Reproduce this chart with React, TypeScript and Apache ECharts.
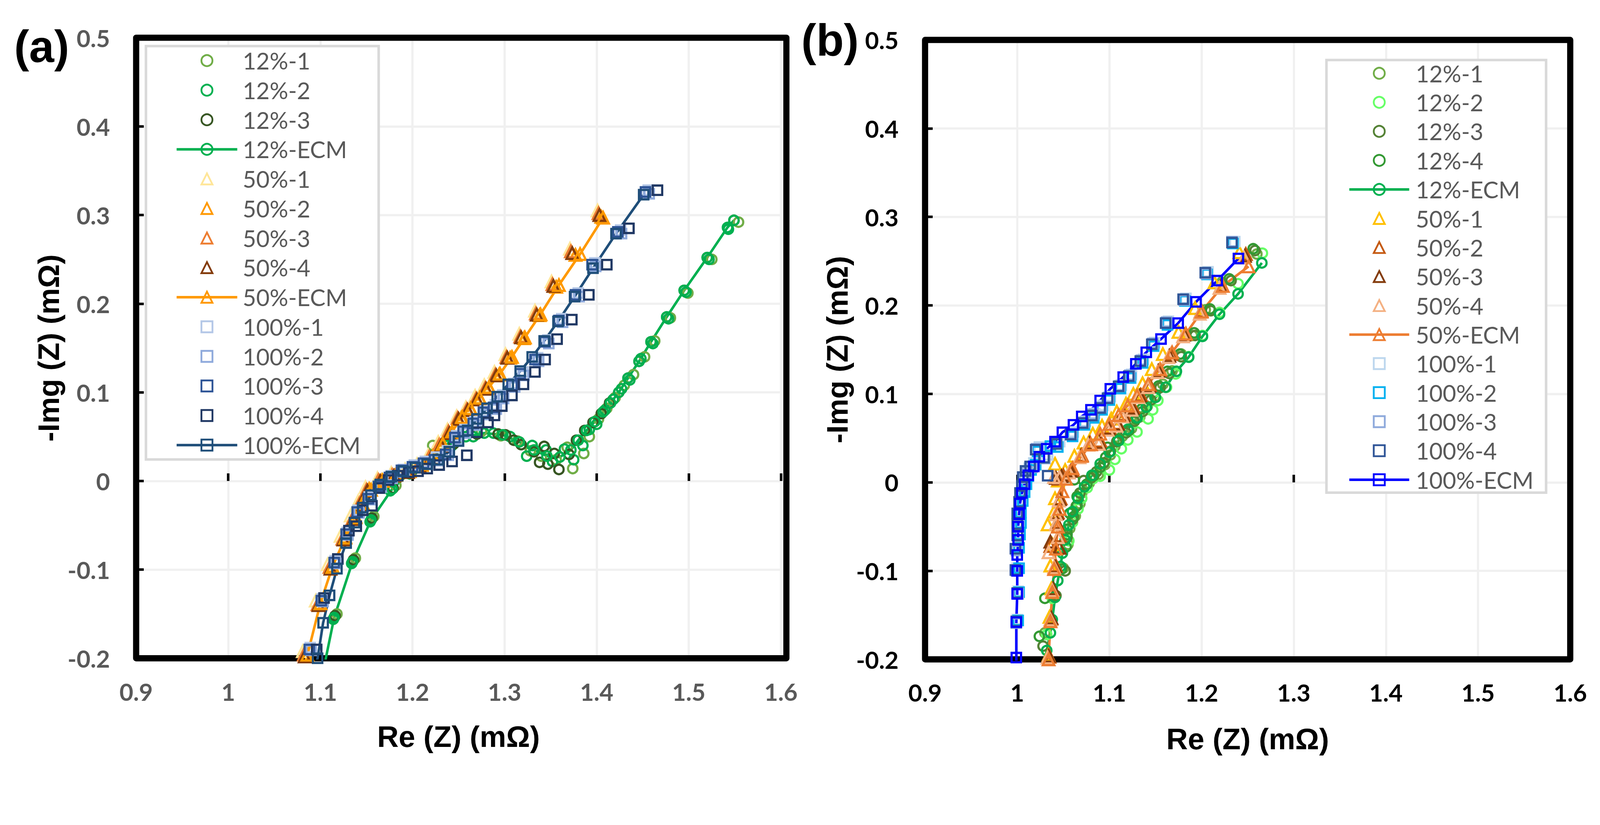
import React, { useEffect, useRef } from "react";
import * as echarts from "echarts";

// ---------------- Panel (a) data: [Re(Z), -Img(Z)] in mΩ ----------------
const A12_1 = [[1.109,-0.205],[1.118,-0.15],[1.138,-0.087],[1.158,-0.04],[1.182,-0.005],[1.205,0.016],[1.222,0.04],[1.248,0.047],[1.275,0.056],[1.296,0.051],[1.314,0.045],[1.328,0.034],[1.34,0.028],[1.356,0.024],[1.374,0.014],[1.368,0.038],[1.386,0.031],[1.392,0.05],[1.402,0.07],[1.411,0.082],[1.42,0.094],[1.43,0.108],[1.44,0.12],[1.452,0.14],[1.463,0.158],[1.48,0.184],[1.499,0.212],[1.525,0.25],[1.554,0.292]];
const A12_2 = [[1.106,-0.21],[1.114,-0.156],[1.134,-0.093],[1.154,-0.046],[1.176,-0.011],[1.197,0.008],[1.22,0.026],[1.243,0.04],[1.266,0.05],[1.288,0.054],[1.306,0.05],[1.324,0.028],[1.33,0.04],[1.345,0.035],[1.352,0.022],[1.365,0.036],[1.375,0.024],[1.385,0.04],[1.392,0.058],[1.4,0.064],[1.409,0.08],[1.418,0.092],[1.427,0.104],[1.436,0.114],[1.448,0.138],[1.461,0.155],[1.478,0.183],[1.497,0.213],[1.522,0.25],[1.543,0.284]];
const A12_3 = [[1.108,-0.21],[1.116,-0.152],[1.136,-0.089],[1.156,-0.042],[1.179,-0.008],[1.2,0.012],[1.222,0.028],[1.245,0.042],[1.27,0.053],[1.293,0.053],[1.301,0.052],[1.31,0.046],[1.318,0.041],[1.332,0.033],[1.343,0.039],[1.338,0.021],[1.347,0.019],[1.354,0.031],[1.359,0.013],[1.37,0.03],[1.378,0.046],[1.387,0.057],[1.396,0.066],[1.405,0.076],[1.414,0.088],[1.424,0.1],[1.434,0.116],[1.446,0.135],[1.459,0.157],[1.476,0.185],[1.495,0.215],[1.52,0.252],[1.549,0.294]];
const A12_ECM = [[1.101,-0.225],[1.115,-0.154],[1.135,-0.091],[1.155,-0.044],[1.178,-0.009],[1.198,0.01],[1.218,0.025],[1.238,0.04],[1.258,0.05],[1.278,0.054],[1.298,0.052],[1.316,0.044],[1.332,0.035],[1.346,0.028],[1.36,0.027],[1.372,0.035],[1.38,0.046],[1.389,0.057],[1.398,0.067],[1.407,0.078],[1.415,0.088],[1.424,0.1],[1.434,0.116],[1.446,0.135],[1.459,0.157],[1.476,0.185],[1.495,0.215],[1.52,0.252],[1.542,0.286],[1.549,0.294]];

const A50_1 = [[1.081,-0.192],[1.095,-0.135],[1.108,-0.094],[1.122,-0.062],[1.133,-0.039],[1.141,-0.023],[1.149,-0.007],[1.162,0.003],[1.177,0.009],[1.192,0.013],[1.205,0.019],[1.217,0.029],[1.228,0.044],[1.238,0.058],[1.248,0.073],[1.258,0.083],[1.268,0.096],[1.278,0.108],[1.289,0.123],[1.301,0.143],[1.316,0.166],[1.333,0.192],[1.351,0.225],[1.371,0.262],[1.401,0.305]];
const A50_2 = [[1.085,-0.197],[1.1,-0.138],[1.113,-0.096],[1.127,-0.063],[1.138,-0.04],[1.145,-0.024],[1.153,-0.009],[1.167,0.001],[1.182,0.007],[1.197,0.011],[1.21,0.018],[1.222,0.028],[1.233,0.042],[1.243,0.055],[1.253,0.071],[1.263,0.081],[1.273,0.093],[1.283,0.105],[1.294,0.12],[1.306,0.139],[1.321,0.161],[1.338,0.187],[1.356,0.219],[1.377,0.255],[1.405,0.298]];
const A50_3 = [[1.082,-0.196],[1.097,-0.139],[1.11,-0.097],[1.124,-0.065],[1.135,-0.042],[1.142,-0.026],[1.15,-0.01],[1.163,0.001],[1.178,0.007],[1.193,0.011],[1.206,0.017],[1.218,0.027],[1.229,0.041],[1.239,0.056],[1.249,0.071],[1.259,0.081],[1.269,0.093],[1.279,0.105],[1.29,0.12],[1.302,0.14],[1.317,0.163],[1.334,0.189],[1.352,0.222],[1.372,0.259],[1.402,0.302]];
const A50_4 = [[1.083,-0.198],[1.098,-0.14],[1.111,-0.099],[1.125,-0.066],[1.136,-0.043],[1.143,-0.027],[1.151,-0.011],[1.165,0.0],[1.18,0.006],[1.195,0.01],[1.208,0.016],[1.22,0.026],[1.231,0.04],[1.24,0.054],[1.25,0.07],[1.26,0.08],[1.27,0.092],[1.28,0.104],[1.291,0.119],[1.303,0.139],[1.318,0.162],[1.335,0.1875],[1.353,0.22],[1.3735,0.257],[1.403,0.3]];
const A50_ECM = [[1.08,-0.215],[1.086,-0.196],[1.1,-0.138],[1.113,-0.097],[1.127,-0.064],[1.138,-0.041],[1.146,-0.025],[1.155,-0.01],[1.168,0.0],[1.182,0.007],[1.196,0.012],[1.21,0.019],[1.222,0.028],[1.233,0.042],[1.243,0.056],[1.254,0.072],[1.263,0.082],[1.273,0.094],[1.283,0.106],[1.295,0.121],[1.308,0.14],[1.322,0.162],[1.339,0.188],[1.359,0.221],[1.382,0.256],[1.407,0.297]];

const A100_1 = [[1.089,-0.188],[1.102,-0.133],[1.116,-0.09],[1.129,-0.058],[1.141,-0.033],[1.153,-0.018],[1.165,-0.004],[1.177,0.006],[1.19,0.013],[1.202,0.018],[1.214,0.022],[1.226,0.027],[1.238,0.034],[1.248,0.051],[1.257,0.058],[1.268,0.067],[1.279,0.079],[1.29,0.086],[1.298,0.097],[1.31,0.11],[1.32,0.123],[1.336,0.139],[1.347,0.159],[1.362,0.183],[1.38,0.212],[1.398,0.246],[1.426,0.283],[1.456,0.328]];
const A100_2 = [[1.09,-0.191],[1.103,-0.136],[1.117,-0.093],[1.13,-0.061],[1.142,-0.036],[1.154,-0.021],[1.166,-0.007],[1.178,0.003],[1.191,0.01],[1.203,0.015],[1.215,0.019],[1.227,0.023],[1.239,0.029],[1.249,0.047],[1.258,0.054],[1.269,0.063],[1.28,0.075],[1.291,0.081],[1.299,0.093],[1.311,0.106],[1.321,0.119],[1.337,0.135],[1.348,0.155],[1.363,0.179],[1.381,0.208],[1.399,0.242],[1.427,0.279],[1.457,0.324]];
const A100_3 = [[1.088,-0.19],[1.101,-0.135],[1.115,-0.092],[1.128,-0.06],[1.14,-0.035],[1.152,-0.02],[1.163,-0.006],[1.175,0.004],[1.188,0.012],[1.2,0.016],[1.212,0.02],[1.224,0.024],[1.236,0.03],[1.246,0.049],[1.255,0.056],[1.266,0.065],[1.277,0.0775],[1.288,0.083],[1.295,0.095],[1.308,0.108],[1.317,0.121],[1.333,0.137],[1.344,0.157],[1.359,0.181],[1.377,0.21],[1.395,0.244],[1.423,0.281],[1.453,0.326]];
const A100_4 = [[1.096,-0.19],[1.104,-0.132],[1.119,-0.088],[1.131,-0.056],[1.139,-0.051],[1.146,-0.033],[1.156,-0.028],[1.164,-0.008],[1.174,0.001],[1.184,0.006],[1.196,0.01],[1.206,0.011],[1.216,0.014],[1.229,0.018],[1.243,0.022],[1.259,0.029],[1.27,0.055],[1.282,0.066],[1.289,0.074],[1.297,0.0845],[1.308,0.0965],[1.3205,0.109],[1.333,0.123],[1.344,0.137],[1.357,0.16],[1.373,0.182],[1.3915,0.21],[1.411,0.244],[1.435,0.285],[1.466,0.328]];
const A100_ECM = [[1.092,-0.215],[1.097,-0.2],[1.103,-0.16],[1.11,-0.129],[1.118,-0.099],[1.128,-0.07],[1.137,-0.047],[1.146,-0.03],[1.155,-0.016],[1.165,-0.004],[1.177,0.005],[1.19,0.011],[1.203,0.015],[1.216,0.019],[1.228,0.024],[1.24,0.033],[1.25,0.045],[1.26,0.057],[1.27,0.07],[1.281,0.082],[1.292,0.095],[1.304,0.109],[1.317,0.124],[1.33,0.14],[1.343,0.158],[1.358,0.18],[1.376,0.208],[1.396,0.24],[1.421,0.279],[1.451,0.323]];

// ---------------- Panel (b) data ----------------
const B12_1 = [[1.03,-0.17],[1.04,-0.13],[1.05,-0.097],[1.055,-0.07],[1.057,-0.052],[1.063,-0.038],[1.068,-0.024],[1.07,-0.012],[1.078,-0.001],[1.088,0.009],[1.095,0.02],[1.101,0.031],[1.106,0.041],[1.114,0.052],[1.124,0.061],[1.133,0.074],[1.141,0.086],[1.149,0.097],[1.158,0.111],[1.168,0.126],[1.178,0.145],[1.19,0.166],[1.204,0.195],[1.222,0.226],[1.26,0.258]];
const B12_2 = [[1.032,-0.172],[1.038,-0.131],[1.047,-0.096],[1.056,-0.066],[1.06,-0.045],[1.066,-0.03],[1.07,-0.018],[1.076,-0.006],[1.082,0.004],[1.09,0.007],[1.1,0.014],[1.106,0.026],[1.113,0.038],[1.12,0.048],[1.13,0.057],[1.142,0.0717],[1.147,0.082],[1.1526,0.0925],[1.162,0.1075],[1.172,0.1226],[1.186,0.142],[1.201,0.166],[1.2195,0.192],[1.2396,0.2245],[1.266,0.259]];
const B12_3 = [[1.028,-0.185],[1.042,-0.128],[1.052,-0.1],[1.054,-0.062],[1.06,-0.042],[1.064,-0.027],[1.068,-0.012],[1.072,0.002],[1.08,0.005],[1.086,0.012],[1.094,0.022],[1.101,0.035],[1.108,0.046],[1.118,0.056],[1.127,0.069],[1.136,0.08],[1.145,0.093],[1.155,0.107],[1.165,0.123],[1.178,0.142],[1.193,0.166],[1.21,0.194],[1.232,0.228],[1.258,0.262]];
const B12_4 = [[1.024,-0.174],[1.03,-0.131],[1.048,-0.098],[1.053,-0.073],[1.054,-0.059],[1.054,-0.053],[1.061,-0.039],[1.057,-0.035],[1.065,-0.026],[1.065,-0.016],[1.062,0.003],[1.0755,-0.002],[1.083,0.0075],[1.09,0.017],[1.096,0.0283],[1.098,0.0396],[1.1096,0.049],[1.121,0.0585],[1.129,0.0717],[1.135,0.083],[1.142,0.0943],[1.1535,0.109],[1.163,0.1255],[1.1765,0.145],[1.192,0.169],[1.209,0.196],[1.23,0.23],[1.256,0.264]];
const B12_ECM = [[1.027,-0.215],[1.032,-0.19],[1.036,-0.17],[1.038,-0.155],[1.041,-0.13],[1.044,-0.111],[1.047,-0.095],[1.049,-0.08],[1.052,-0.065],[1.056,-0.048],[1.06,-0.033],[1.066,-0.018],[1.073,-0.005],[1.081,0.008],[1.09,0.021],[1.1,0.034],[1.11,0.047],[1.12,0.06],[1.13,0.073],[1.14,0.085],[1.15,0.096],[1.161,0.1075],[1.1727,0.1255],[1.186,0.1415],[1.201,0.165],[1.2195,0.19],[1.2396,0.213],[1.2654,0.248]];

const B50_1 = [[1.034,-0.195],[1.035,-0.152],[1.037,-0.12],[1.036,-0.094],[1.038,-0.07],[1.033,-0.0475],[1.04,-0.033],[1.041,-0.018],[1.041,0.021],[1.044,0.002],[1.052,0.014],[1.062,0.03],[1.072,0.045],[1.082,0.055],[1.092,0.064],[1.102,0.072],[1.108,0.08],[1.118,0.089],[1.126,0.1],[1.136,0.112],[1.146,0.128],[1.158,0.145],[1.175,0.17],[1.193,0.197],[1.214,0.226],[1.241,0.26]];
const B50_2 = [[1.035,-0.197],[1.037,-0.154],[1.039,-0.121],[1.042,-0.094],[1.036,-0.072],[1.046,-0.06],[1.043,-0.045],[1.044,-0.034],[1.047,-0.018],[1.045,0.004],[1.05,0.008],[1.06,0.014],[1.07,0.031],[1.079,0.045],[1.09,0.047],[1.1,0.062],[1.109,0.067],[1.116,0.077],[1.126,0.085],[1.134,0.099],[1.144,0.11],[1.155,0.127],[1.167,0.145],[1.183,0.168],[1.2,0.194],[1.222,0.223],[1.248,0.258]];
const B50_3 = [[1.034,-0.196],[1.037,-0.153],[1.039,-0.12],[1.041,-0.095],[1.046,-0.074],[1.036,-0.067],[1.043,-0.046],[1.043,-0.035],[1.046,-0.019],[1.042,0.005],[1.048,0.007],[1.058,0.013],[1.069,0.03],[1.078,0.044],[1.089,0.045],[1.099,0.061],[1.109,0.066],[1.115,0.076],[1.125,0.084],[1.133,0.098],[1.143,0.109],[1.153,0.126],[1.165,0.143],[1.181,0.167],[1.199,0.193],[1.221,0.222],[1.247,0.256]];
const B50_4 = [[1.033,-0.198],[1.036,-0.155],[1.038,-0.122],[1.04,-0.096],[1.034,-0.079],[1.044,-0.062],[1.042,-0.047],[1.042,-0.036],[1.045,-0.0206],[1.04,0.006],[1.046,0.0057],[1.056,0.0111],[1.0675,0.0283],[1.077,0.0425],[1.0885,0.0434],[1.098,0.0594],[1.1077,0.064],[1.114,0.0745],[1.124,0.082],[1.1315,0.0962],[1.142,0.1075],[1.152,0.1245],[1.164,0.1415],[1.18,0.165],[1.198,0.1906],[1.2195,0.2198],[1.246,0.254]];
const B50_ECM = [[1.033,-0.215],[1.034,-0.2],[1.036,-0.157],[1.038,-0.124],[1.04,-0.098],[1.042,-0.075],[1.044,-0.05],[1.046,-0.03],[1.049,-0.01],[1.053,0.004],[1.06,0.016],[1.07,0.03],[1.08,0.043],[1.09,0.055],[1.1,0.066],[1.11,0.076],[1.12,0.087],[1.13,0.098],[1.142,0.111],[1.155,0.128],[1.168,0.147],[1.183,0.168],[1.2,0.193],[1.223,0.222],[1.251,0.244]];

const B100_1 = [[1.0,-0.155],[1.001,-0.123],[1.0,-0.097],[1.001,-0.073],[1.002,-0.058],[1.002,-0.045],[1.003,-0.033],[1.004,-0.02],[1.006,-0.01],[1.008,0.0],[1.01,0.008],[1.013,0.016],[1.018,0.022],[1.024,0.04],[1.033,0.031],[1.046,0.046],[1.061,0.057],[1.074,0.069],[1.084,0.078],[1.093,0.087],[1.101,0.097],[1.113,0.11],[1.124,0.122],[1.137,0.139],[1.149,0.158],[1.164,0.182],[1.183,0.208],[1.207,0.238],[1.236,0.272]];
const B100_2 = [[1.001,-0.156],[1.002,-0.124],[1.002,-0.097],[1.002,-0.074],[1.003,-0.059],[1.004,-0.046],[1.004,-0.034],[1.006,-0.021],[1.008,-0.011],[1.01,-0.002],[1.012,0.007],[1.015,0.014],[1.02,0.02],[1.022,0.035],[1.036,0.041],[1.044,0.04],[1.06,0.052],[1.073,0.065],[1.083,0.073],[1.092,0.082],[1.1,0.093],[1.112,0.106],[1.123,0.118],[1.136,0.135],[1.148,0.154],[1.163,0.178],[1.182,0.205],[1.206,0.235],[1.234,0.27]];
const B100_3 = [[0.999,-0.159],[1.001,-0.126],[0.999,-0.1],[0.999,-0.077],[1.001,-0.061],[1.001,-0.048],[1.002,-0.036],[1.003,-0.023],[1.004,-0.013],[1.006,-0.003],[1.008,0.005],[1.011,0.012],[1.016,0.017],[1.021,0.038],[1.03,0.027],[1.043,0.044],[1.059,0.055],[1.072,0.068],[1.082,0.077],[1.091,0.085],[1.099,0.096],[1.111,0.109],[1.122,0.121],[1.1345,0.138],[1.147,0.157],[1.162,0.181],[1.181,0.206],[1.205,0.236],[1.233,0.272]];
const B100_4 = [[0.999,-0.157],[1.0,-0.125],[0.998,-0.099],[0.998,-0.075],[1.0,-0.06],[1.0,-0.047],[1.0,-0.035],[1.002,-0.022],[1.003,-0.012],[1.005,-0.004],[1.006,0.006],[1.009,0.013],[1.014,0.018],[1.02,0.037],[1.033,0.0075],[1.029,0.028],[1.0426,0.0434],[1.058,0.054],[1.071,0.067],[1.081,0.0755],[1.09,0.084],[1.098,0.095],[1.11,0.1085],[1.121,0.12],[1.1335,0.137],[1.146,0.156],[1.161,0.18],[1.18,0.207],[1.204,0.237],[1.233,0.271]];
const B100_ECM = [[0.999,-0.215],[0.999,-0.198],[0.999,-0.158],[1.0,-0.126],[1.0,-0.1],[1.0,-0.082],[1.001,-0.065],[1.001,-0.05],[1.002,-0.036],[1.003,-0.024],[1.005,-0.012],[1.008,-0.002],[1.012,0.008],[1.018,0.018],[1.024,0.029],[1.032,0.038],[1.041,0.046],[1.049,0.0566],[1.061,0.065],[1.07,0.0745],[1.08,0.082],[1.09,0.0925],[1.101,0.1057],[1.115,0.119],[1.1287,0.134],[1.14,0.147],[1.156,0.162],[1.1746,0.18],[1.194,0.204],[1.217,0.228],[1.24,0.253]];

// axis ticks
const X_MIN = 0.9, X_MAX = 1.6, X_STEP = 0.1;
const Y_MIN = -0.2, Y_MAX = 0.5, Y_STEP = 0.1;

type Spec = { name: string; data: number[][]; color: string; symbol: string; ecm?: boolean };

const SERIES_A: Spec[] = [
  { name: "12%-1", data: A12_1, color: "#70AD47", symbol: "circle" },
  { name: "12%-2", data: A12_2, color: "#00B050", symbol: "circle" },
  { name: "12%-3", data: A12_3, color: "#375623", symbol: "circle" },
  { name: "12%-ECM", data: A12_ECM, color: "#00B050", symbol: "circle", ecm: true },
  { name: "50%-1", data: A50_1, color: "#FFE699", symbol: "triangle" },
  { name: "50%-2", data: A50_2, color: "#FF9900", symbol: "triangle" },
  { name: "50%-3", data: A50_3, color: "#ED7D31", symbol: "triangle" },
  { name: "50%-4", data: A50_4, color: "#843C0C", symbol: "triangle" },
  { name: "50%-ECM", data: A50_ECM, color: "#FF9900", symbol: "triangle", ecm: true },
  { name: "100%-1", data: A100_1, color: "#B4C7E7", symbol: "rect" },
  { name: "100%-2", data: A100_2, color: "#8FAADC", symbol: "rect" },
  { name: "100%-3", data: A100_3, color: "#2F5597", symbol: "rect" },
  { name: "100%-4", data: A100_4, color: "#203864", symbol: "rect" },
  { name: "100%-ECM", data: A100_ECM, color: "#1F4E79", symbol: "rect", ecm: true },
];

const SERIES_B: Spec[] = [
  { name: "12%-1", data: B12_1, color: "#70AD47", symbol: "circle" },
  { name: "12%-2", data: B12_2, color: "#66FF66", symbol: "circle" },
  { name: "12%-3", data: B12_3, color: "#548235", symbol: "circle" },
  { name: "12%-4", data: B12_4, color: "#339933", symbol: "circle" },
  { name: "12%-ECM", data: B12_ECM, color: "#00B050", symbol: "circle", ecm: true },
  { name: "50%-1", data: B50_1, color: "#FFC000", symbol: "triangle" },
  { name: "50%-2", data: B50_2, color: "#C55A11", symbol: "triangle" },
  { name: "50%-3", data: B50_3, color: "#843C0C", symbol: "triangle" },
  { name: "50%-4", data: B50_4, color: "#F4B183", symbol: "triangle" },
  { name: "50%-ECM", data: B50_ECM, color: "#ED7D31", symbol: "triangle", ecm: true },
  { name: "100%-1", data: B100_1, color: "#BDD7EE", symbol: "rect" },
  { name: "100%-2", data: B100_2, color: "#00B0F0", symbol: "rect" },
  { name: "100%-3", data: B100_3, color: "#8FAADC", symbol: "rect" },
  { name: "100%-4", data: B100_4, color: "#2F5597", symbol: "rect" },
  { name: "100%-ECM", data: B100_ECM, color: "#0000FF", symbol: "rect", ecm: true },
];

function makeSeries(s: Spec) {
  const size = s.symbol === "triangle" ? 32 : 26;
  return {
    name: s.name,
    type: "line",
    data: s.data,
    symbol: s.symbol,
    symbolSize: size,
    showSymbol: true,
    clip: true,
    silent: true,
    lineStyle: s.ecm ? { color: s.color, width: 7 } : { color: s.color, width: 0, opacity: 0 },
    itemStyle: { color: "rgba(0,0,0,0)", borderColor: s.color, borderWidth: 6 },
    emphasis: { disabled: true },
  };
}

type Panel = {
  specs: Spec[];
  grid: { left: number; top: number; width: number; height: number };
  labelColor: string;
  legend: { left: number; top: number; itemWidth: number; itemGap: number; textPad: number };
  box: { x: number; y: number; width: number; height: number };
  tag: { text: string; x: number; y: number };
  xNameGap: number;
  yNameGap: number;
  xLabelMargin: number;
  yLabelMargin: number;
};

function buildOption(p: Panel) {
  const labelStyle = { fontFamily: "Lato", fontWeight: "bold", fontSize: 66, color: p.labelColor };
  const nameStyle = { fontFamily: "Liberation Sans", fontWeight: "bold", fontSize: 82, color: "#000" };
  const tick = { show: true, inside: true, length: 21, lineStyle: { color: "#000", width: 7 } };
  const split = { show: true, lineStyle: { color: "#F0F0F0", width: 6 } };
  const g = p.grid;
  return {
    animation: false,
    backgroundColor: "#fff",
    grid: { ...g, show: false, containLabel: false },
    xAxis: {
      type: "value", min: X_MIN, max: X_MAX, interval: X_STEP,
      axisLine: { show: false }, axisTick: tick, splitLine: split,
      axisLabel: { ...labelStyle, margin: p.xLabelMargin },
      name: "Re (Z) (mΩ)", nameLocation: "middle", nameGap: p.xNameGap, nameTextStyle: nameStyle,
    },
    yAxis: {
      type: "value", min: Y_MIN, max: Y_MAX, interval: Y_STEP,
      axisLine: { show: false }, axisTick: tick, splitLine: split,
      axisLabel: { ...labelStyle, margin: p.yLabelMargin },
      name: "-Img (Z) (mΩ)", nameLocation: "middle", nameGap: p.yNameGap, nameTextStyle: nameStyle,
    },
    legend: {
      orient: "vertical",
      left: p.legend.left, top: p.legend.top, padding: 0,
      itemWidth: p.legend.itemWidth, itemHeight: 38, itemGap: p.legend.itemGap,
      selectedMode: false,
      itemStyle: { borderWidth: 5 },
      lineStyle: { width: 7 },
      textStyle: { fontFamily: "Lato", fontSize: 64, color: "#595959", lineHeight: 64, padding: [0, 0, 0, p.legend.textPad] },
      data: p.specs.map((s) => s.name),
    },
    graphic: [
      {
        type: "rect", z: 1, silent: true,
        shape: { x: g.left, y: g.top, width: g.width, height: g.height },
        style: { fill: "none", stroke: "#000", lineWidth: 17, lineJoin: "round" },
      },
      {
        type: "rect", z: 1, silent: true,
        shape: { ...p.box },
        style: { fill: "#fff", stroke: "#D9D9D9", lineWidth: 7 },
      },
      {
        type: "text", z: 5, silent: true, x: p.tag.x, y: p.tag.y,
        style: { text: p.tag.text, fontFamily: "Liberation Sans", fontWeight: "bold", fontSize: 124, fill: "#000", align: "left", verticalAlign: "middle" },
      },
    ],
    series: p.specs.map(makeSeries),
  };
}

const PANEL_A: Panel = {
  specs: SERIES_A,
  grid: { left: 375, top: 104, width: 1791, height: 1710 },
  labelColor: "#595959",
  legend: { left: 483, top: 135, itemWidth: 167, itemGap: 17.5, textPad: 10 },
  box: { x: 402, y: 127, width: 641, height: 1139 },
  tag: { text: "(a)", x: 39, y: 128 },
  xNameGap: 175,
  yNameGap: 188,
  xLabelMargin: 58,
  yLabelMargin: 72,
};

const PANEL_B: Panel = {
  specs: SERIES_B,
  grid: { left: 348, top: 110, width: 1777, height: 1707 },
  labelColor: "#000",
  legend: { left: 1513, top: 170, itemWidth: 165, itemGap: 16, textPad: 13 },
  box: { x: 1453.5, y: 165.5, width: 605, height: 1192 },
  tag: { text: "(b)", x: 7, y: 111 },
  xNameGap: 178,
  yNameGap: 175,
  xLabelMargin: 58,
  yLabelMargin: 73,
};

const PAGE_W = 4407;
const PAGE_H = 2113;

function Chart({ option, style }: { option: any; style: React.CSSProperties }) {
  const ref = useRef<HTMLDivElement>(null);
  useEffect(() => {
    if (!ref.current) return;
    const chart = echarts.init(ref.current, null, { renderer: "svg" });
    chart.setOption(option);
    return () => chart.dispose();
  }, [option]);
  return <div ref={ref} style={style} />;
}

export default function App() {
  useEffect(() => {
    document.body.style.margin = "0";
  }, []);
  // the viewport can be narrower than the requested page: fit the 4407x2113 design into it
  const iw = typeof window !== "undefined" ? window.innerWidth : PAGE_W;
  const ih = typeof window !== "undefined" ? window.innerHeight : PAGE_H;
  const s = Math.min(iw / PAGE_W, ih / PAGE_H, 1);
  return (
    <div style={{ position: "relative", width: PAGE_W * s, height: PAGE_H * s, overflow: "hidden", background: "#fff" }}>
      <style>{"body{margin:0}"}</style>
      <div style={{ position: "absolute", left: 0, top: 0, width: PAGE_W, height: PAGE_H, transform: `scale(${s})`, transformOrigin: "0 0" }}>
        <Chart option={buildOption(PANEL_A)} style={{ position: "absolute", left: 0, top: 0, width: 2200, height: 2113 }} />
        <Chart option={buildOption(PANEL_B)} style={{ position: "absolute", left: 2200, top: 0, width: 2207, height: 2113 }} />
      </div>
    </div>
  );
}
